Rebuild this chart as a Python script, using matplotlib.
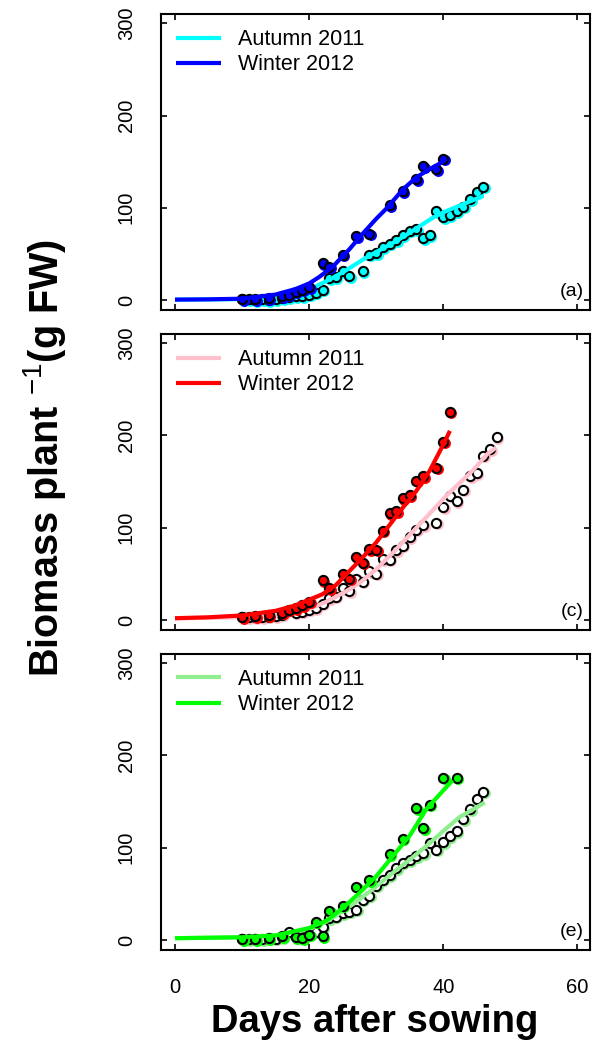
import matplotlib
matplotlib.use("Agg")
import matplotlib.pyplot as plt
from matplotlib.transforms import offset_copy

plt.rcParams['font.family'] = ['Liberation Sans', 'DejaVu Sans']
plt.rcParams['mathtext.fontset'] = 'custom'
plt.rcParams['mathtext.rm'] = 'Liberation Sans'
plt.rcParams['mathtext.it'] = 'Liberation Sans:italic'
plt.rcParams['mathtext.bf'] = 'Liberation Sans:bold'

# ---- panel (a): cyan / blue ----
a_aut_days = [10, 11, 12, 13, 14, 15, 16, 17, 18, 19, 20, 21, 22, 23, 24, 25, 26, 28,
              29, 30, 31, 32, 33, 34, 35, 36, 37, 38, 39, 40, 41, 42, 43, 44, 45, 46]
a_aut_vals = [1, 1, 0, 1, 0, 1, 2, 3, 4, 4, 6, 8, 11, 23.5, 25, 31, 26, 31,
              49, 51, 57, 61, 65, 70, 75, 77, 67, 70, 96, 90, 92, 96, 101, 109, 117, 123]
a_win_days = [10, 12, 14, 16, 17, 18, 19, 20, 22, 23, 25, 27, 29, 32, 34, 36, 37, 39, 40]
a_win_vals = [1, 1, 2, 4, 6, 9, 11, 14, 40, 36, 49, 69, 72, 103, 118, 131, 145, 142, 153]
a_aut_fit_days = [0, 5, 10, 15, 18, 20, 23.5, 25, 28.5, 30, 33, 35, 38.4, 40, 43, 46]
a_aut_fit_vals = [0.5, 0.7, 1, 4, 8, 11, 24, 30, 46, 52, 64, 73, 89, 95, 104, 113]
a_win_fit_days = [0, 5, 10, 15, 18, 20, 21.5, 23.5, 26, 28, 30, 31.5, 34, 36, 38, 40]
a_win_fit_vals = [0.5, 0.8, 1.5, 6, 12, 18, 25, 36, 55, 72, 88, 99, 120, 133, 142, 150]

# ---- panel (c): pink / red ----
c_aut_days = [10, 11, 12, 13, 14, 15, 16, 18, 19, 20, 21, 22, 23, 24, 25, 26, 27, 28, 29,
              30, 31, 32, 33, 34, 35, 36, 37, 39, 40, 41, 42, 43, 44, 45, 46, 47, 48]
c_aut_vals = [3, 3, 3, 3, 3.6, 4.4, 5.5, 8, 9, 11, 12.7, 17.5, 23.6, 25.5, 34.5, 31, 45, 41.5, 52.7,
              50, 66, 65.5, 75.6, 80.7, 90, 98, 103, 105.5, 122, 134.5, 129, 141, 156, 159, 178, 185, 198]
c_win_days = [10, 12, 14, 16, 17, 18, 19, 20, 22, 23, 25, 26, 27, 28, 29, 30, 31,
              32, 33, 34, 35, 36, 37, 39, 40, 41]
c_win_vals = [3, 4, 5, 8, 11, 13, 16, 20, 43, 34.5, 50, 45, 68, 62, 77, 76, 97,
              116, 118, 132, 135, 151, 156, 165, 193, 226]
c_aut_fit_days = [0, 5, 10, 15, 20, 22.6, 25, 27.5, 30, 32.5, 36, 40.5, 44.4, 46.6, 47.9]
c_aut_fit_vals = [1.8, 2.5, 3, 5, 11.6, 20, 29, 40, 55, 73, 100, 135, 162, 180, 187]
c_win_fit_days = [0, 5, 10, 15, 18, 20, 22, 24, 26, 28, 30, 32, 34, 36, 38, 40, 41]
c_win_fit_vals = [2, 3, 5, 10, 16, 22, 28, 38, 53, 68, 84, 103, 122, 140, 162, 190, 205]

# ---- panel (e): light green / green ----
e_aut_days = [10, 11, 12, 13, 14, 15, 16, 17, 18, 19, 20, 21, 22, 23, 24, 25, 26, 27, 28,
              29, 30, 31, 32, 33, 34, 35, 36, 37, 38, 39, 40, 41, 42, 43, 44, 45, 46]
e_aut_vals = [0.7, 0.7, 0.7, 0.7, 1.5, 1.5, 2.9, 9, 2.9, 4.4, 7.3, 9.1, 13.8, 23.6, 25.5, 29, 30.9, 32.7, 43.6,
              48, 59, 65.5, 70, 78, 83.6, 86.5, 91, 94, 105.5, 98, 106, 112.7, 118, 130.9, 141.8, 152.7, 160.7]
e_win_days = [10, 12, 14, 16, 18, 19, 20, 21, 22, 23, 25, 27, 29, 32, 34, 36, 37, 38, 40, 42]
e_win_vals = [1, 1, 2, 4, 3, 2, 6, 20, 4, 32, 37, 58, 65, 93, 110, 143, 121, 146.5, 176, 176]
e_aut_fit_days = [0, 5, 10, 15, 20, 22.6, 25, 27.5, 30, 32.5, 35, 37.5, 40, 42.4, 46.2]
e_aut_fit_vals = [2, 2.5, 3, 5, 11.6, 20, 31, 44, 58, 73, 87, 102, 118, 133, 149]
e_win_fit_days = [0, 5, 10, 15, 20, 22.6, 25, 27.5, 30, 32.5, 35, 37.5, 40, 41.4]
e_win_fit_vals = [2, 2.5, 3, 5, 13, 21, 34.5, 51, 69, 91, 113, 142, 162, 173]

labels = ['Autumn 2011', 'Winter 2012']
panels = [
    ('(a)', ['cyan', 'blue'], ['cyan', 'blue'],
     (a_aut_days, a_aut_vals, a_aut_fit_days, a_aut_fit_vals),
     (a_win_days, a_win_vals, a_win_fit_days, a_win_fit_vals)),
    ('(c)', ['pink', 'red'], ['white', 'red'],
     (c_aut_days, c_aut_vals, c_aut_fit_days, c_aut_fit_vals),
     (c_win_days, c_win_vals, c_win_fit_days, c_win_fit_vals)),
    ('(e)', ['lightgreen', '#00FF00'], ['white', '#00FF00'],
     (e_aut_days, e_aut_vals, e_aut_fit_days, e_aut_fit_vals),
     (e_win_days, e_win_vals, e_win_fit_days, e_win_fit_vals)),
]

fig = plt.figure(figsize=(5.96, 10.45), dpi=100)
left, width, height = 0.270, 0.720, 0.2833
bottoms = [0.7033, 0.3971, 0.0909]

for i, (tag, cols, faces, aut, win) in enumerate(panels):
    ax = fig.add_axes([left, bottoms[i], width, height])
    shadow = offset_copy(ax.transData, fig=fig, x=1.5, y=-1.5, units='dots')
    handles = []
    for k, ((d, v, fd, fv), col, face) in enumerate(zip([aut, win], cols, faces)):
        z = 2 + 2 * k
        ax.scatter(d, v, s=62, color=col, linewidths=0, transform=shadow, zorder=z)
        ax.scatter(d, v, s=44, facecolor=face, edgecolor='black', linewidths=1.5, zorder=z + 0.5)
        ln, = ax.plot(fd, fv, color=col, lw=3, solid_capstyle='butt', zorder=z + 1)
        handles.append(ln)
    ax.legend(handles, labels, loc='upper left', frameon=False, fontsize=15.5,
              handlelength=2.1, handletextpad=0.8, labelspacing=0.19,
              borderaxespad=0.5, borderpad=0.2)
    ax.text(0.985, 0.035, tag, transform=ax.transAxes, ha='right', va='bottom', fontsize=14)
    ax.set_xlim(-2.1, 61.9)
    ax.set_ylim(-10.8, 310)
    ax.set_xticks([0, 20, 40, 60])
    ax.set_yticks([0, 100, 200, 300])
    ax.tick_params(direction='in', length=4, width=1.2, top=True, right=True,
                   labelsize=14.5)
    ax.tick_params(axis='y', pad=18)
    ax.tick_params(axis='x', pad=20)
    for lab in ax.get_yticklabels():
        lab.set_rotation(90)
        lab.set_va('center')
    if i < 2:
        ax.tick_params(labelbottom=False)
    for sp in ax.spines.values():
        sp.set_linewidth(1.5)

fig.text(375 / 596, 1 - 1022 / 1045, 'Days after sowing', ha='center', va='center',
         fontsize=27.5, fontweight='bold')
fig.text(45 / 596, 1 - 458 / 1045, r'Biomass plant $^{-1}$(g FW)', ha='center', va='center',
         rotation=90, fontsize=28.5, fontweight='bold')

fig.savefig('out.png', dpi=100)
